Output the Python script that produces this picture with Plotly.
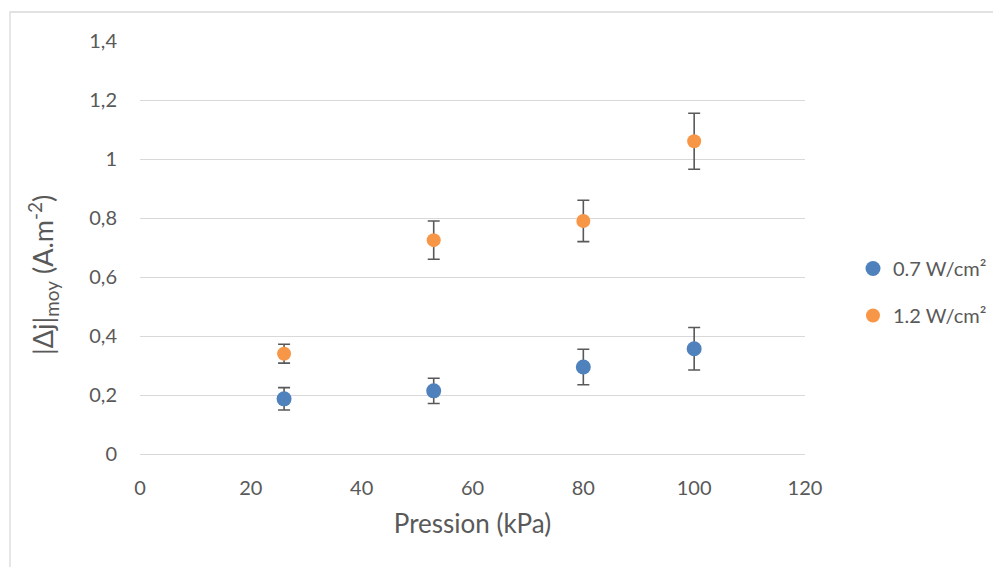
import plotly.graph_objects as go

pressure = [26, 53, 80, 100]
series_names = ["0.7 W/cm²", "1.2 W/cm²"]
dj_07 = [0.187, 0.214, 0.295, 0.357]
err_07 = [0.038, 0.043, 0.060, 0.072]
dj_12 = [0.340, 0.725, 0.790, 1.060]
err_12 = [0.032, 0.065, 0.070, 0.095]
colors = ["#4F81BD", "#F79646"]

FONT = "Lato"
GRAY = "#595959"

fig = go.Figure()
for name, ys, es, c, grp, sz in [(series_names[0], dj_07, err_07, colors[0], "a", 15),
                                 (series_names[1], dj_12, err_12, colors[1], "b", 14)]:
    fig.add_trace(go.Scatter(
        x=pressure, y=ys, mode="markers", name=name, legendgroup=grp,
        marker=dict(color=c, size=sz, symbol="circle", line=dict(width=0)),
        error_y=dict(type="data", array=es, visible=True, color=GRAY,
                     thickness=1.6, width=6),
        cliponaxis=False,
    ))

# page body adds an 8px offset, so figure coordinates = screen - 8
W, H = 993, 559
L, T = 132, 33
pw, ph = 665, 413
R, B = W - L - pw, H - T - ph

fig.update_layout(
    width=W, height=H,
    margin=dict(l=L, r=R, t=T, b=B, pad=0, autoexpand=False),
    paper_bgcolor="white", plot_bgcolor="white",
    separators=", ",
    font=dict(family=FONT, color=GRAY, size=20),
    showlegend=True,
    legend=dict(x=713 / pw, y=(ph - (292 - 41)) / ph, xanchor="left", yanchor="middle",
                font=dict(size=20, color=GRAY), tracegroupgap=18,
                traceorder="grouped", itemwidth=30, bgcolor="rgba(0,0,0,0)"),
    xaxis=dict(range=[0, 120], dtick=20, showgrid=False, zeroline=False,
               showline=False, ticks="outside", ticklen=16, tickcolor="rgba(0,0,0,0)",
               tickfont=dict(size=20, color=GRAY),
               title=dict(text="Pression (kPa)", font=dict(size=26, color=GRAY), standoff=16)),
    yaxis=dict(range=[0, 1.4], dtick=0.2, showgrid=True, gridcolor="#D9D9D9", gridwidth=1.3,
               zeroline=True, zerolinecolor="#D9D9D9", zerolinewidth=1.3, showline=False,
               ticks="outside", ticklen=18, tickcolor="rgba(0,0,0,0)",
               tickfont=dict(size=20, color=GRAY)),
)

# y-axis title (placed slightly below the plot centre, as in the reference)
fig.add_annotation(text="|Δj|<sub>moy</sub> (A.m<sup>-2</sup>)", textangle=-90,
                   xref="paper", yref="paper",
                   x=(35 - L) / pw, y=(ph - (267 - T)) / ph,
                   xanchor="center", yanchor="middle", showarrow=False,
                   font=dict(size=27, color=GRAY, family=FONT))

# outer chart frame (screen x=10, y=12)
fig.add_shape(type="rect", xref="paper", yref="paper",
              x0=(2 - L) / pw, x1=(W + 20 - L) / pw,
              y0=(ph - (H + 20 - T)) / ph, y1=(ph - (4 - T)) / ph,
              line=dict(color="#D9D9D9", width=1.3), fillcolor="rgba(0,0,0,0)", layer="below")

fig.write_html("out.html")
